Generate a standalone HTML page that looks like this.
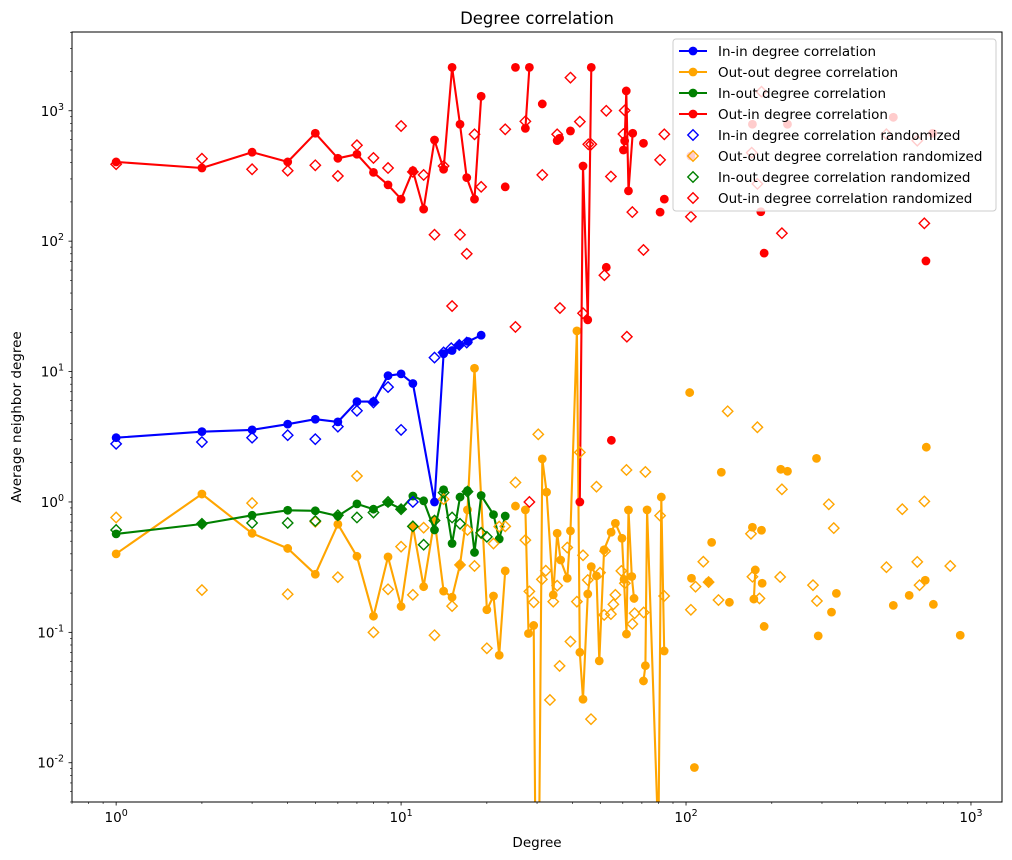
<!DOCTYPE html>
<html><head><meta charset="utf-8"><title>Degree correlation</title>
<style>
html,body{margin:0;padding:0;background:#fff;width:1012px;height:860px;overflow:hidden;}
svg{display:block;font-family:"DejaVu Sans","Liberation Sans",sans-serif;}
</style></head>
<body>
<svg id="chart" width="1012" height="860" viewBox="0 0 1012 860" xmlns="http://www.w3.org/2000/svg" overflow="hidden">
<text x="537" y="24" text-anchor="middle" font-size="16.5">Degree correlation</text>
<text x="537" y="847" text-anchor="middle" font-size="13.5">Degree</text>
<text x="21" y="417" text-anchor="middle" font-size="13.5" transform="rotate(-90 21 417)">Average neighbor degree</text>
<defs><clipPath id="plotclip"><rect x="72" y="32" width="930" height="770"/></clipPath></defs>
<g id="axes"></g>
<g id="plot" clip-path="url(#plotclip)"></g>
<rect x="72" y="32" width="930" height="770" fill="none" stroke="#000" stroke-width="1"/>
<g id="legend"></g>
</svg>
<script>
// ---- data (null = line break, 0 = zero value) ----
const inInX = [1,2,3,4,5,6,7,8,9,10,11,13.1,14.1,15.1,16,17.2,19.1];
const inInY = [3.11,3.46,3.57,3.95,4.31,4.11,5.88,5.88,9.3,9.6,8.1,1.0,13.7,14.5,16,17,19];
const outOutX = [1,2,3,4,5,6,7,8,9,10,11,12,13.1,14.1,15.1,16.1,17.1,18.1,20,21.1,22.1,23.2,null,25.2,null,27.3,28,29.2,29.6,30.5,31.3,32.4,34.2,35.3,36.3,38.3,39.3,41.4,42.4,43.5,45.2,46.5,48.5,49.6,51.6,54.6,56.5,59.6,60.6,61.8,62.8,64.5,65.7,null,70.9,72,73,80,81.9,83.8,null,103,null,104.5,null,107,null,120,null,123,null,133,null,142,null,171,null,173,175,null,184,null,185,null,188,null,215,null,227,null,287,null,291,null,324,null,337,null,534,null,607,null,691,null,697,null,738,null,917];
const outOutY = [0.40,1.15,0.575,0.44,0.279,0.675,0.383,0.133,0.379,0.158,0.65,0.224,0.73,0.207,0.186,0.329,0.87,10.6,0.149,0.19,0.0667,0.296,null,0.93,null,0.87,0.098,0.113,0,0,2.14,1.19,0.194,0.575,0.359,0.26,0.6,20.5,0.0703,0.0307,0.197,0.319,0.271,0.0604,0.43,0.586,0.687,0.527,0.255,0.097,0.868,0.268,0.182,null,0.0424,0.0555,0.87,0,1.09,0.072,null,6.9,null,0.26,null,0.0092,null,0.245,null,0.49,null,1.69,null,0.17,null,0.64,null,0.18,0.301,null,0.607,null,0.238,null,0.111,null,1.78,null,1.72,null,2.16,null,0.094,null,0.143,null,0.199,null,0.161,null,0.192,null,0.251,null,2.63,null,0.164,null,0.095];
const inOutX = [1,2,3,4,5,6,7,8,9,10,11,12,13.1,14.1,15.1,16.1,17.1,18.1,19.1,21.1,22.1,23.2];
const inOutY = [0.569,0.678,0.79,0.863,0.855,0.78,0.966,0.88,0.99,0.884,1.11,1.02,0.61,1.24,0.48,1.09,1.22,0.41,1.12,0.80,0.52,0.78];
const outInX = [1,2,3,4,5,6,7,8,9,10,11,12,13.1,14.1,15.1,16.1,17,18.1,19.1,null,23.2,null,25.2,null,27.3,28.2,null,31.3,null,35.3,36,null,39.3,null,42.4,43.5,45.2,46.5,null,52.5,null,54.7,null,60.3,60.9,61.7,62.8,65,null,70.9,null,81.1,null,83.9,null,104,null,171,null,183,null,188,null,227,null,534,null,695,null,734];
const outInY = [405,364,481,405,672,432,464,337,270,210,347,176,597,356,2150,788,307,210,1292,null,261,null,2150,null,733,2150,null,1128,null,590,615,null,700,null,1.0,377,24.9,2150,null,63,null,2.97,null,500,587,1419,243,672,null,563,null,167,null,210,null,450,null,788,null,168,null,81,null,788,null,891,null,70.5,null,672];
const inInRandX = [1,2,3,4,5,6,7,8,9,10,11,13.1,14.1,15,16,17];
const inInRandY = [2.79,2.88,3.11,3.25,3.03,3.78,5.0,5.8,7.6,3.57,1.0,12.8,14,15.1,16,16.7];
const outOutRandX = [1,2,3,4,5,6,7,8,9,10,11,12,13.1,14.1,15.1,16.1,17.1,18.1,19.1,20,21.1,22.1,23.2,25.2,27.3,28.2,29.2,30.3,31.2,32.2,33.3,34.2,35.3,36,38.3,39.3,41.4,42.4,43.5,45.2,46.4,48.5,49.9,51.6,52,54.5,55.6,56.5,59.3,61,61.8,64.8,66,71,72,81.1,83.8,104,108,115,120,130,140,169,171,178,181,214,217,279,288,317,330,505,574,648,660,686,846];
const outOutRandY = [0.76,0.211,0.98,0.196,0.705,0.265,1.58,0.1,0.214,0.454,0.194,0.635,0.095,1.05,0.159,0.329,0.61,0.323,0.575,0.0755,0.48,0.647,0.65,1.41,0.51,0.206,0.17,3.3,0.255,0.297,0.0303,0.172,0.228,0.0553,0.447,0.085,0.172,2.4,0.39,0.252,0.0216,1.31,0.287,0.136,0.42,0.138,0.164,0.194,0.296,0.238,1.76,0.116,0.14,0.142,1.7,0.785,0.19,0.149,0.224,0.348,0.243,0.177,4.96,0.57,0.267,3.74,0.182,0.266,1.25,0.23,0.174,0.96,0.63,0.316,0.88,0.347,0.23,1.01,0.323];
const inOutRandX = [1,2,3,4,5,6,7,8,9,10,11,12,13.1,14.1,15.1,16.1,17.1,19.1,20];
const inOutRandY = [0.61,0.68,0.69,0.69,0.715,0.79,0.76,0.83,1.0,0.88,0.65,0.47,0.72,1.18,0.76,0.68,1.2,0.58,0.54];
const outInRandX = [1,2,3,4,5,6,7,8,9,10,11,12,13.1,14.1,15.1,16.1,17,18.1,19.1,23.2,25.2,27.3,28.2,31.3,35.3,36.1,39.3,42.4,43.5,45.4,46.5,51.7,52.5,54.5,60.3,60.9,62,64.8,70.9,81.1,83.9,104,170,178,184,217,505,648,686];
const outInRandY = [389,429,356,347,382,316,544,435,364,764,340,322,112,377,31.8,112,80,660,261,721,22,830,1.0,322,660,30.7,1795,825,28,553,553,54.8,1000,313,663,1005,18.5,167,85.6,420,660,154,477,275,1400,115,661,590,137];
const xTickLabels = ["0","1","2","3"];
const yTickLabels = ["-2","-1","0","1","2","3"];
const legendLabels = ["In-in degree correlation","Out-out degree correlation","In-out degree correlation","Out-in degree correlation","In-in degree correlation randomized","Out-out degree correlation randomized","In-out degree correlation randomized","Out-in degree correlation randomized"];

// ---- axes ----
const L=72,R=1002,T=32,B=802;
const xMinLog=Math.log10(0.7), xMaxLog=Math.log10(1285);
const yMinLog=Math.log10(0.005), yMaxLog=Math.log10(4018);
function xs(v){return L+(Math.log10(v)-xMinLog)/(xMaxLog-xMinLog)*(R-L);}
function ys(v){ if(v<=0) return B+40; return B-(Math.log10(v)-yMinLog)/(yMaxLog-yMinLog)*(B-T);}
const NS="http://www.w3.org/2000/svg";
function mk(tag,attrs,parent){const e=document.createElementNS(NS,tag);for(const k in attrs)e.setAttribute(k,attrs[k]);parent.appendChild(e);return e;}
const axes=document.getElementById('axes'), plot=document.getElementById('plot'), legend=document.getElementById('legend');

xTickLabels.forEach(function(p){
  const e=Number(p);
  for(let m=1;m<10;m++){
    const v=m*Math.pow(10,e);
    const x=xs(v);
    if(x<L||x>R) continue;
    const t=mk('line',{x1:x,x2:x,y1:B,y2:B+(m===1?3.5:2),stroke:'#000','stroke-width':m===1?0.8:0.6},axes);
    
    
  }
  const x=xs(Math.pow(10,e));
  const lab=mk('text',{x:x,y:B+20,'text-anchor':'middle','font-size':'13.5'},axes);
  
  
  lab.textContent='10';
  const sup=mk('tspan',{'font-size':'9.5',dy:'-6'},lab); sup.textContent=p;
});
for(let m=7;m<10;m++){const x=xs(m/10);if(x>=L){const t=mk('line',{x1:x,x2:x,y1:B,y2:B+2,stroke:'#000','stroke-width':0.6},axes);}}
yTickLabels.forEach(function(p){
  const e=Number(p);
  for(let m=1;m<10;m++){
    const v=m*Math.pow(10,e);
    const y=ys(v);
    if(y<T||y>B) continue;
    const t=mk('line',{x1:L,x2:L-(m===1?3.5:2),y1:y,y2:y,stroke:'#000','stroke-width':m===1?0.8:0.6},axes);
    
    
  }
  const y=ys(Math.pow(10,e));
  const lab=mk('text',{x:L-8,y:y+5,'text-anchor':'end','font-size':'13.5'},axes);
  
  
  lab.textContent='10';
  const sup=mk('tspan',{'font-size':'9.5',dy:'-6'},lab); sup.textContent=p;
});
for(let m=5;m<10;m++){const y=ys(m/1000);if(y<=B){const t=mk('line',{x1:L,x2:L-2,y1:y,y2:y,stroke:'#000','stroke-width':0.6},axes);}}

function drawLine(X,Y,color,name){
  let d='',pen=false;
  for(let i=0;i<X.length;i++){
    if(X[i]===null||Y[i]===null){pen=false;continue;}
    const px=xs(X[i]).toFixed(1), py=ys(Y[i]).toFixed(1);
    d+=(pen?'L':'M')+px+' '+py+' '; pen=true;
  }
  const p=mk('path',{d:d,fill:'none',stroke:color,'stroke-width':2.1,'stroke-linejoin':'round'},plot);
  
  
  for(let i=0;i<X.length;i++){
    if(X[i]===null||Y[i]===null||Y[i]<=0) continue;
    const c=mk('circle',{cx:xs(X[i]),cy:ys(Y[i]),r:4.4,fill:color},plot);
    
    
  }
}
function diamondPath(cx,cy,s){return 'M'+cx+' '+(cy-s)+' L'+(cx+s)+' '+cy+' L'+cx+' '+(cy+s)+' L'+(cx-s)+' '+cy+' Z';}
function drawDiamonds(X,Y,color,name){
  for(let i=0;i<X.length;i++){
    const p=mk('path',{d:diamondPath(xs(X[i]),ys(Y[i]),5.2),fill:'none',stroke:color,'stroke-width':1.4},plot);
    
    
  }
}
drawLine(inInX,inInY,'#0000ff','in-in');
drawLine(outOutX,outOutY,'#ffa500','out-out');
drawLine(inOutX,inOutY,'#008000','in-out');
drawLine(outInX,outInY,'#ff0000','out-in');
drawDiamonds(inInRandX,inInRandY,'#0000ff','in-in-randomized');
drawDiamonds(outOutRandX,outOutRandY,'#ffa500','out-out-randomized');
drawDiamonds(inOutRandX,inOutRandY,'#008000','in-out-randomized');
drawDiamonds(outInRandX,outInRandY,'#ff0000','out-in-randomized');

const lg=mk('rect',{x:673,y:39,width:323,height:172,rx:3,fill:'#fff','fill-opacity':0.8,stroke:'#cccccc','stroke-width':1},legend);


const colors=['#0000ff','#ffa500','#008000','#ff0000'];
legendLabels.forEach(function(lbl,i){
  const y=51+i*21;
  const c=colors[i%4];
  const g=mk('g',{},legend);
  
  
  if(i<4){
    mk('line',{x1:679,x2:707,y1:y,y2:y,stroke:c,'stroke-width':2.1},g);
    mk('circle',{cx:693,cy:y,r:4.4,fill:c},g);
  } else {
    mk('path',{d:diamondPath(693,y,5.2),fill:'none',stroke:c,'stroke-width':1.4},g);
  }
  const t=mk('text',{x:718,y:y+5,'font-size':'13.5'},g);
  t.textContent=lbl;
});
</script>
</body></html>
